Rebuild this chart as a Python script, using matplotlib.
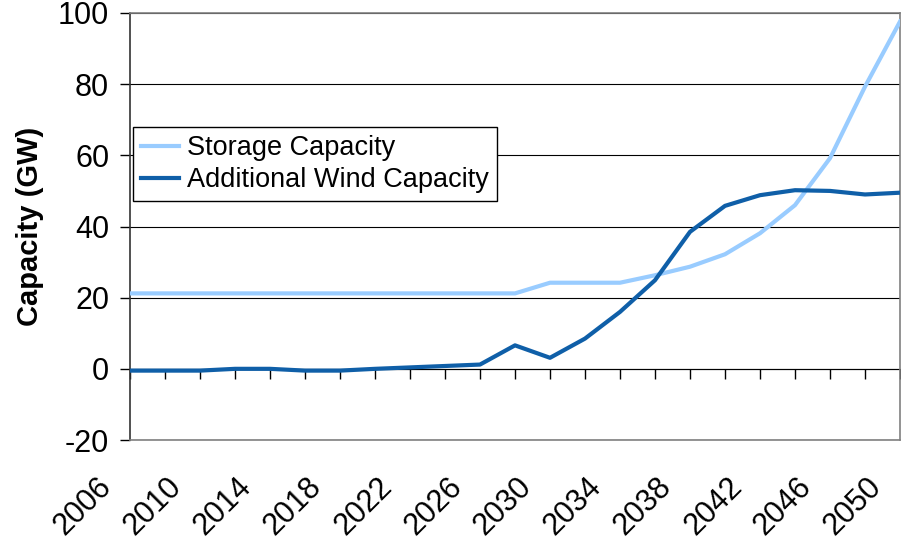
import matplotlib.pyplot as plt
from matplotlib.transforms import ScaledTranslation

plt.rcParams['font.family'] = ['Liberation Sans', 'DejaVu Sans']
plt.rcParams['axes.unicode_minus'] = False

years = [2006, 2008, 2010, 2012, 2014, 2016, 2018, 2020, 2022, 2024, 2026, 2028,
         2030, 2032, 2034, 2036, 2038, 2040, 2042, 2044, 2046, 2048, 2050]
storage = [21.2, 21.2, 21.2, 21.2, 21.2, 21.2, 21.2, 21.2, 21.2, 21.2, 21.2, 21.2,
           24.2, 24.2, 24.2, 26.3, 28.7, 32.2, 38.1, 46.0, 59.2, 79.3, 97.6]
wind = [-0.5, -0.5, -0.5, 0.0, 0.0, -0.5, -0.5, 0.0, 0.4, 0.8, 1.2, 6.6,
        3.1, 8.5, 16.0, 24.9, 38.5, 45.8, 48.8, 50.2, 50.0, 49.0, 49.5]
label_years = list(range(2006, 2051, 4))
y_ticks = [-20, 0, 20, 40, 60, 80, 100]

fig = plt.figure(figsize=(9.01, 5.44), dpi=100)
ax = fig.add_axes([130 / 901, 104 / 544, 770 / 901, 427 / 544])

ax.plot(years, storage, color='#99CCFF', lw=3, label='Storage Capacity', zorder=3)
ax.plot(years, wind, color='#0F5FA8', lw=3, label='Additional Wind Capacity', zorder=4)

ax.set_xlim(2006, 2050)
ax.set_ylim(-20, 100)
ax.set_yticks(y_ticks)
ax.set_xticks(label_years)
ax.set_axisbelow(True)
ax.yaxis.grid(True, color='black', lw=0.8)

ax.tick_params(axis='y', direction='out', length=7, width=1, labelsize=22, pad=8)
ax.tick_params(axis='x', length=0, labelsize=22, pad=23)
for lab in ax.get_xticklabels():
    lab.set_rotation(45)
    lab.set_ha('right')
    lab.set_transform(lab.get_transform() + ScaledTranslation(-0.12, 0, fig.dpi_scale_trans))

for side in ['top', 'right', 'bottom']:
    ax.spines[side].set_color('#808080')
    ax.spines[side].set_linewidth(1.2)
ax.spines['left'].set_color('#333333')
ax.spines['left'].set_linewidth(1.2)

# tick marks for each year sit on the zero line
sec = ax.secondary_xaxis(20 / 120)
sec.set_xticks(years)
sec.tick_params(axis='x', direction='out', length=7, width=1, labelbottom=False)
sec.spines['bottom'].set_color('black')
sec.spines['bottom'].set_linewidth(0.8)

ax.set_ylabel('Capacity (GW)', fontsize=21, fontweight='bold', labelpad=10)

leg = ax.legend(loc='upper left', bbox_to_anchor=(0.004, 0.733), borderaxespad=0,
                fontsize=19.5, frameon=True, fancybox=False, handlelength=1.4,
                handletextpad=0.3, labelspacing=0.22, borderpad=0.3)
leg.get_frame().set_edgecolor('black')
leg.get_frame().set_linewidth(1)
leg.get_frame().set_alpha(1)

fig.savefig('out.png', dpi=100)
